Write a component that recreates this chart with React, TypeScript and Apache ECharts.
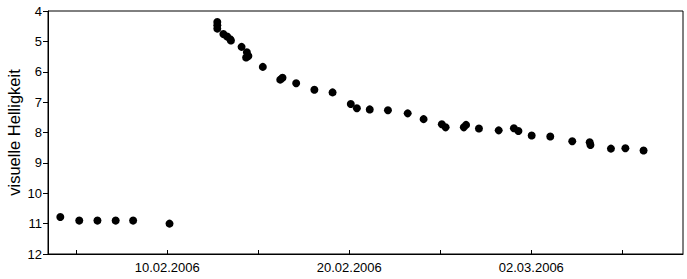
import React, { useEffect, useRef } from "react";
import * as echarts from "echarts";

// Observation times (UTC) and visual magnitudes
const obsTimes: string[] = [
  "2006-02-04T03:00", "2006-02-05T04:00", "2006-02-06T04:00", "2006-02-07T04:00",
  "2006-02-08T03:00", "2006-02-10T03:00",
  "2006-02-12T18:00", "2006-02-12T18:00", "2006-02-12T18:00",
  "2006-02-13T02:00", "2006-02-13T07:00", "2006-02-13T11:00", "2006-02-13T12:00",
  "2006-02-14T02:00", "2006-02-14T09:00", "2006-02-14T11:00", "2006-02-14T08:00",
  "2006-02-15T06:00", "2006-02-16T05:00", "2006-02-16T08:00", "2006-02-17T02:00",
  "2006-02-18T02:00", "2006-02-19T02:00", "2006-02-20T02:00", "2006-02-20T10:00",
  "2006-02-21T03:00", "2006-02-22T03:00", "2006-02-23T05:00", "2006-02-24T02:00",
  "2006-02-25T02:00", "2006-02-25T07:00", "2006-02-26T07:00", "2006-02-26T10:00",
  "2006-02-27T03:00", "2006-02-28T05:00", "2006-03-01T01:00", "2006-03-01T07:00",
  "2006-03-02T00:30", "2006-03-03T01:00", "2006-03-04T06:00", "2006-03-05T05:00",
  "2006-03-05T06:00", "2006-03-06T09:00", "2006-03-07T04:00", "2006-03-08T04:00",
];
const magnitudes: number[] = [
  10.78, 10.9, 10.9, 10.9,
  10.9, 11.0,
  4.36, 4.47, 4.58,
  4.76, 4.84, 4.93, 4.97,
  5.18, 5.36, 5.48, 5.53,
  5.84, 6.26, 6.2, 6.38,
  6.59, 6.68, 7.06, 7.2,
  7.24, 7.27, 7.37, 7.56,
  7.73, 7.83, 7.83, 7.75,
  7.87, 7.93, 7.86, 7.95,
  8.1, 8.13, 8.29, 8.32,
  8.41, 8.53, 8.52, 8.59,
];

const xTickDates: string[] = [
  "05.02.2006", "10.02.2006", "15.02.2006", "20.02.2006", "25.02.2006", "02.03.2006", "07.03.2006",
];
const xLabelDates: string[] = ["10.02.2006", "20.02.2006", "02.03.2006"];
const xRange: string[] = ["2006-02-03T10:48", "2006-03-10T08:00"];
const yTicks: number[] = [4, 5, 6, 7, 8, 9, 10, 11, 12];
const yTitle = "visuelle Helligkeit";

const ORIGIN = Date.UTC(2006, 1, 0); // day number 1 = 01.02.2006
const DAY = 86400000;

function isoToDay(s: string): number {
  const [d, t] = s.split("T");
  const [y, m, dd] = d.split("-").map(Number);
  const [hh, mm] = (t || "00:00").split(":").map(Number);
  return (Date.UTC(y, m - 1, dd, hh, mm) - ORIGIN) / DAY;
}
function labelToDay(s: string): number {
  const [dd, m, y] = s.split(".").map(Number);
  return (Date.UTC(y, m - 1, dd) - ORIGIN) / DAY;
}
function dayToLabel(v: number): string {
  const dt = new Date(ORIGIN + Math.round(v * DAY));
  const p = (n: number) => String(n).padStart(2, "0");
  return `${p(dt.getUTCDate())}.${p(dt.getUTCMonth() + 1)}.${dt.getUTCFullYear()}`;
}

export default function App() {
  const ref = useRef<HTMLDivElement>(null);
  useEffect(() => {
    if (!ref.current) return;
    const chart = echarts.init(ref.current, null, { renderer: "svg" });
    const data = obsTimes.map((t, i) => [isoToDay(t), magnitudes[i]]);
    const font = "'Liberation Sans', Arial, sans-serif";
    chart.setOption({
      animation: false,
      backgroundColor: "#fff",
      grid: {
        left: 48,
        top: 11,
        right: 4,
        bottom: 25,
        outerBoundsMode: "none",
        containLabel: false,
        show: true,
        borderColor: "#000",
        borderWidth: 1,
        backgroundColor: "#fff",
      },
      xAxis: {
        type: "value",
        min: isoToDay(xRange[0]),
        max: isoToDay(xRange[1]),
        splitLine: { show: false },
        axisLine: { show: true, lineStyle: { color: "#000", width: 1 } },
        axisTick: {
          show: true,
          inside: true,
          length: 4,
          lineStyle: { color: "#000" },
          customValues: xTickDates.map(labelToDay),
        },
        axisLabel: {
          color: "#000",
          fontFamily: font,
          fontSize: 13,
          margin: 7,
          customValues: xLabelDates.map(labelToDay),
          formatter: (v: number) => dayToLabel(v),
        },
      },
      yAxis: {
        type: "value",
        inverse: true,
        min: yTicks[0],
        max: yTicks[yTicks.length - 1],
        interval: 1,
        name: yTitle,
        nameLocation: "middle",
        nameRotate: 90,
        nameGap: 26,
        nameMoveOverlap: false,
        nameTextStyle: { color: "#000", fontFamily: font, fontSize: 16.5 },
        splitLine: { show: false },
        axisLine: { show: true, lineStyle: { color: "#000", width: 1 } },
        axisTick: { show: true, inside: false, length: 5, lineStyle: { color: "#000" } },
        axisLabel: { color: "#000", fontFamily: font, fontSize: 13, margin: 6 },
      },
      series: [
        {
          type: "scatter",
          data,
          symbol: "circle",
          symbolSize: 8,
          itemStyle: { color: "#000", opacity: 1 },
        },
      ],
    });
    return () => chart.dispose();
  }, []);
  return <div ref={ref} style={{ width: 687, height: 279, position: "absolute", left: 0, top: 0 }} />;
}
